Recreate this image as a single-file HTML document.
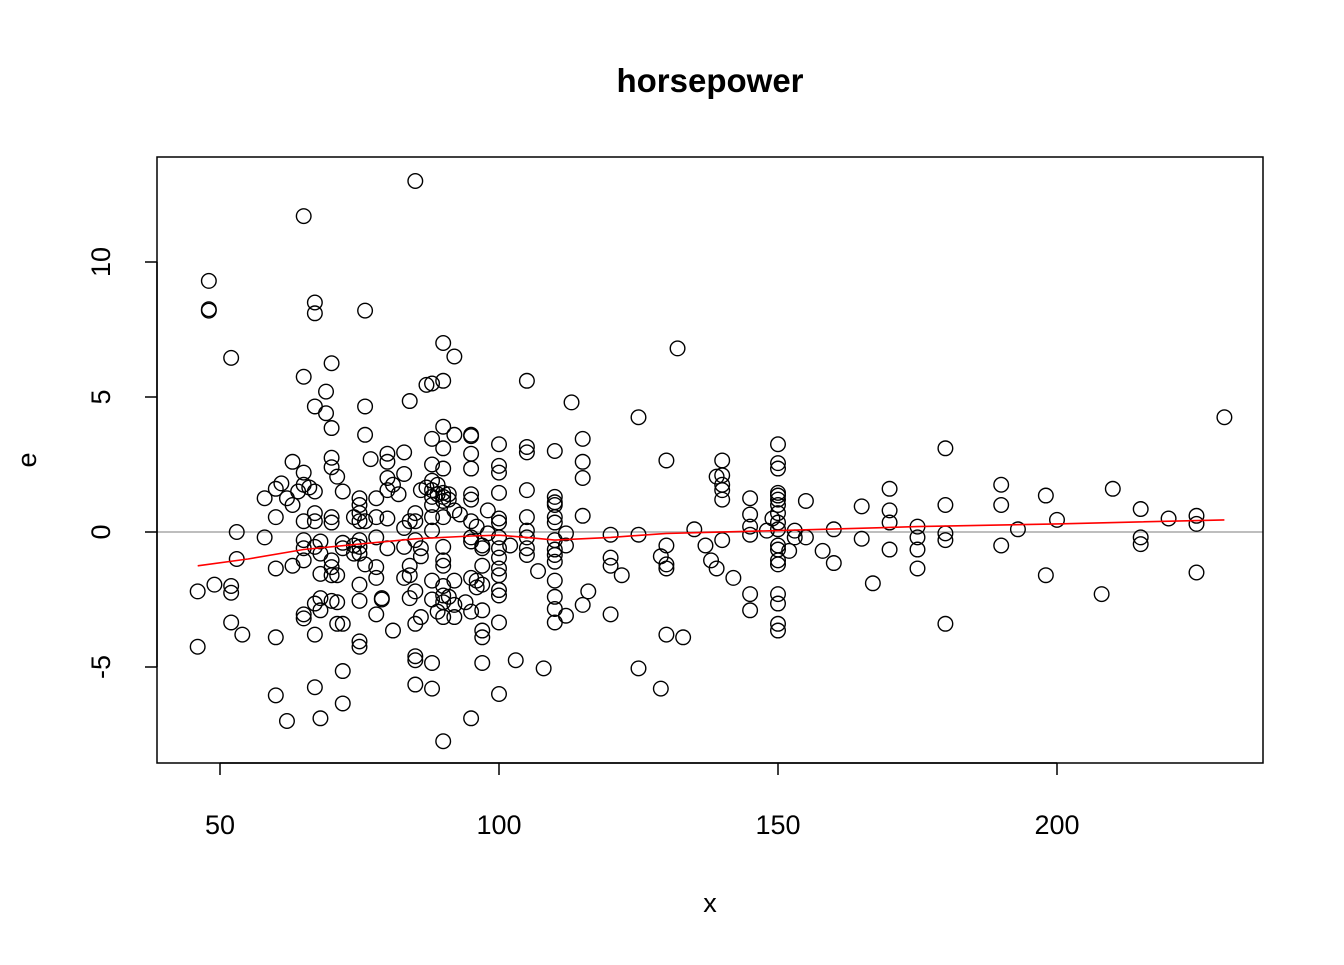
<!DOCTYPE html>
<html><head><meta charset="utf-8">
<style>
html,body{margin:0;padding:0;background:#fff;}
svg text{font-family:"Liberation Sans",Arial,sans-serif;}
</style></head>
<body>
<svg id="chart" width="1344" height="960" xmlns="http://www.w3.org/2000/svg">
<rect width="1344" height="960" fill="#fff"/>
<text x="710" y="92" font-size="33" font-weight="bold" text-anchor="middle">horsepower</text>
<text x="710" y="912" font-size="27" text-anchor="middle">x</text>
<text x="36" y="460" font-size="27" text-anchor="middle" transform="rotate(-90 36 460)">e</text>
<g id="plot"></g>
</svg>
<script>
const xTicks=[50,100,150,200];
const yTicks=[-5,0,5,10];
const pointX=[46,46,48,48,48,49,52,52,52,52,53,53,54,58,58,60,60,60,60,60,61,62,62,63,63,63,64,65,65,65,65,65,65,65,65,65,65,66,67,67,67,67,67,67,67,67,67,67,68,68,68,68,68,68,69,69,70,70,70,70,70,70,70,70,70,70,71,71,71,71,72,72,72,72,72,72,74,74,74,75,75,75,75,75,75,75,75,75,75,75,76,76,76,76,76,77,78,78,78,78,78,78,79,79,80,80,80,80,80,80,81,81,82,83,83,83,83,83,84,84,84,84,84,85,85,85,85,85,85,85,85,85,86,86,86,86,87,87,88,88,88,88,88,88,88,88,88,88,88,88,88,89,89,89,90,90,90,90,90,90,90,90,90,90,90,90,90,90,90,90,90,91,91,91,92,92,92,92,92,92,93,94,95,95,95,95,95,95,95,95,95,95,95,95,96,96,96,97,97,97,97,97,97,97,97,98,98,100,100,100,100,100,100,100,100,100,100,100,100,100,100,100,102,103,105,105,105,105,105,105,105,105,105,107,108,110,110,110,110,110,110,110,110,110,110,110,110,110,110,112,112,112,113,115,115,115,115,115,116,120,120,120,120,122,125,125,125,129,129,130,130,130,130,130,132,133,135,137,138,139,139,140,140,140,140,140,140,142,145,145,145,145,145,145,148,149,150,150,150,150,150,150,150,150,150,150,150,150,150,150,150,150,150,150,152,153,153,155,155,158,160,160,165,165,167,170,170,170,170,175,175,175,175,180,180,180,180,180,190,190,190,193,198,198,200,208,210,215,215,215,220,225,225,225,230];
const pointE=[-2.2,-4.25,9.3,8.25,8.2,-1.95,6.45,-2.0,-2.25,-3.35,0,-1.0,-3.8,1.25,-0.2,0.55,1.6,-1.35,-3.9,-6.05,1.8,-7.0,1.25,2.6,-1.25,1.0,1.5,11.7,5.75,2.2,1.75,0.4,-0.3,-0.6,-1.05,-3.05,-3.2,1.65,8.5,8.1,4.65,1.5,0.7,0.4,-0.55,-2.65,-3.8,-5.75,-0.35,-0.8,-1.55,-2.45,-2.9,-6.9,5.2,4.4,6.25,3.85,2.75,2.4,0.55,0.35,-1.05,-1.3,-1.6,-2.55,2.05,-1.6,-2.6,-3.4,1.5,-0.4,-0.6,-3.4,-5.15,-6.35,0.55,-0.5,-0.8,1.25,1.0,0.7,0.4,-0.3,-0.55,-0.8,-1.95,-2.55,-4.05,-4.25,8.2,4.65,3.6,0.4,-1.2,2.7,1.25,0.55,-0.2,-1.3,-1.7,-3.05,-2.45,-2.5,2.9,2.6,2.0,1.55,0.5,-0.6,1.75,-3.65,1.4,2.95,2.15,0.15,-0.55,-1.7,4.85,0.4,-1.25,-1.6,-2.45,13.0,0.7,0.4,-0.3,-2.2,-3.4,-4.6,-4.75,-5.65,1.55,-0.6,-0.9,-3.15,5.45,1.65,5.5,3.45,2.5,1.9,1.55,1.3,1.0,0.55,0.05,-1.8,-2.5,-4.85,-5.8,1.75,1.4,-2.95,7.0,5.6,3.9,3.1,2.35,1.45,1.3,1.15,0.55,-0.55,-1.05,-1.25,-2.0,-2.35,-2.6,-3.15,-7.75,1.4,1.2,-2.4,6.5,3.6,0.8,-1.8,-2.7,-3.15,0.65,-2.6,3.6,3.55,2.9,2.35,1.4,1.2,0.4,-0.2,-0.35,-1.7,-2.95,-6.9,0.2,-1.8,-2.05,-0.5,-0.6,-1.25,-1.95,-2.9,-3.65,-3.9,-4.85,-0.05,0.8,3.25,2.45,2.2,1.45,0.5,0.35,-0.2,-0.6,-0.95,-1.35,-1.6,-2.15,-2.35,-3.35,-6.0,-0.5,-4.75,5.6,3.15,2.95,1.55,0.55,0.05,-0.2,-0.6,-0.85,-1.45,-5.05,3.0,1.3,1.1,1.0,0.55,0.35,-0.3,-0.65,-0.85,-1.1,-1.8,-2.4,-2.85,-3.35,-0.05,-0.5,-3.1,4.8,3.45,2.6,2.0,0.6,-2.7,-2.2,-0.1,-0.95,-1.25,-3.05,-1.6,4.25,-0.1,-5.05,-0.9,-5.8,2.65,-0.5,-1.2,-1.35,-3.8,6.8,-3.9,0.1,-0.5,-1.05,2.05,-1.35,2.65,2.1,1.75,1.55,1.2,-0.3,-1.7,1.25,0.65,0.2,-0.1,-2.3,-2.9,0.05,0.5,3.25,2.55,2.35,1.45,1.35,1.2,1.0,0.7,0.35,0.1,-0.5,-0.65,-1.05,-1.2,-2.3,-2.65,-3.4,-3.65,-0.7,0.05,-0.2,1.15,-0.2,-0.7,0.1,-1.15,0.95,-0.25,-1.9,1.6,0.8,0.35,-0.65,0.2,-0.2,-0.65,-1.35,3.1,1.0,-0.05,-0.3,-3.4,1.75,1.0,-0.5,0.1,1.35,-1.6,0.45,-2.3,1.6,0.85,-0.2,-0.45,0.5,0.6,0.3,-1.5,4.25];
const smoothX=[46,55,65,75,85,95,100,105,110,120,130,150,175,200,230];
const smoothE=[-1.25,-1.0,-0.65,-0.45,-0.25,-0.15,-0.12,-0.2,-0.3,-0.2,-0.05,0.05,0.2,0.3,0.45];

const NS="http://www.w3.org/2000/svg";
const g=document.getElementById('plot');
const L=157,R=1263,T=157,B=763;
function sx(v){return 220+(v-50)*(499-220)/50;}
function sy(v){return 532-v*27;}
function mk(tag,attrs){const e=document.createElementNS(NS,tag);for(const k in attrs)e.setAttribute(k,attrs[k]);g.appendChild(e);return e;}

const zl=mk('line',{x1:L,x2:R,y1:sy(0),y2:sy(0),stroke:'#bebebe','stroke-width':2});



for(let i=0;i<pointX.length;i++){
  const c=mk('circle',{cx:sx(pointX[i]),cy:sy(pointE[i]),r:7.3,fill:'none',stroke:'#000','stroke-width':1.4});
  
  
}
const pts=smoothX.map((v,i)=>sx(v).toFixed(1)+','+sy(smoothE[i]).toFixed(1)).join(' ');
const sl=mk('polyline',{points:pts,fill:'none',stroke:'#ff0000','stroke-width':1.6});



const box=mk('rect',{x:L,y:T,width:R-L,height:B-T,fill:'none',stroke:'#000','stroke-width':1.5});



const xa=mk('line',{x1:sx(xTicks[0]),x2:sx(xTicks[xTicks.length-1]),y1:B,y2:B,stroke:'#000','stroke-width':1.5});


xTicks.forEach(v=>{
  const t=mk('line',{x1:sx(v),x2:sx(v),y1:B,y2:B+12,stroke:'#000','stroke-width':1.5});
  
  
  const tx=mk('text',{x:sx(v),y:834,'font-size':27,'text-anchor':'middle'});
  tx.textContent=v;
  
  
});
const ya=mk('line',{x1:L,x2:L,y1:sy(yTicks[0]),y2:sy(yTicks[yTicks.length-1]),stroke:'#000','stroke-width':1.5});


yTicks.forEach(v=>{
  const t=mk('line',{x1:L-12,x2:L,y1:sy(v),y2:sy(v),stroke:'#000','stroke-width':1.5});
  
  
  const tx=mk('text',{x:110,y:sy(v),'font-size':27,'text-anchor':'middle',transform:'rotate(-90 110 '+sy(v)+')'});
  tx.textContent=v<0?'-'+Math.abs(v):v;
  
  
});
</script>
</body></html>
